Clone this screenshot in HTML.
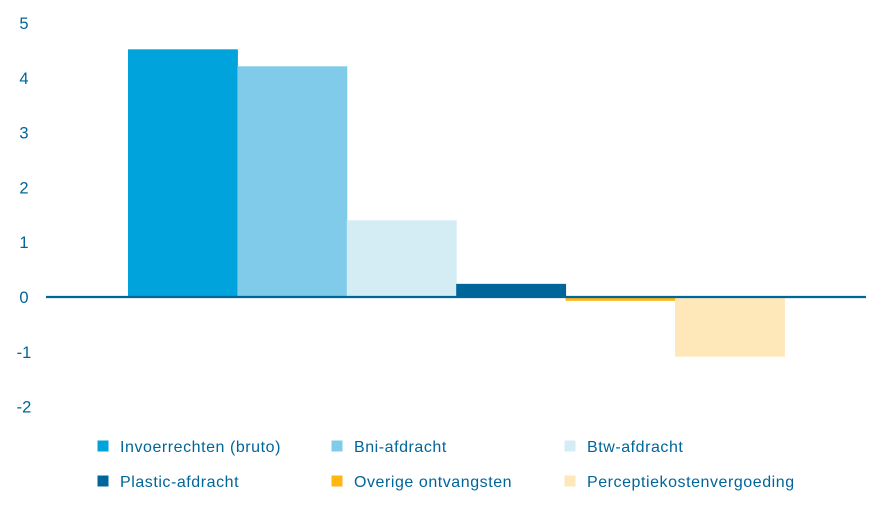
<!DOCTYPE html>
<html><head><meta charset="utf-8"><style>
html,body{margin:0;padding:0;background:#fff;width:892px;height:512px;overflow:hidden}
svg{display:block;font-family:"Liberation Sans",sans-serif}
</style></head><body>
<svg id="chart" width="892" height="512"></svg>
<script>
const series = ["Invoerrechten (bruto)","Bni-afdracht","Btw-afdracht","Plastic-afdracht","Overige ontvangsten","Perceptiekostenvergoeding"];
const values = [4.52, 4.21, 1.40, 0.24, -0.07, -1.09];
const colors = ["#00a3dc","#80cbe9","#d4edf5","#00659a","#ffb612","#fee7b9"];
const ticks = [5,4,3,2,1,0,-1,-2];
const NS="http://www.w3.org/2000/svg";
const svg=document.getElementById('chart');
const zeroY=297, unit=54.8;
const y=v=>zeroY-v*unit;
const x0=128, bw=109.4;
const x=i=>x0+i*bw;
function el(t,a){const e=document.createElementNS(NS,t);for(const k in a)e.setAttribute(k,a[k]);svg.appendChild(e);return e;}
ticks.forEach(t=>{
  const e=el('text',{x:24,y:y(t)+6,'text-anchor':'middle','font-size':16.5,fill:'#00659a'});
  e.textContent=t;
  
  
});
values.forEach((v,i)=>{
  const top=Math.min(y(v),zeroY), h=Math.abs(y(v)-zeroY);
  const r=el('rect',{x:x(i),y:top,width:bw+0.5,height:h,fill:colors[i]});
  
  
});
const ax=el('line',{x1:46,x2:866,y1:zeroY,y2:zeroY,stroke:'#00659a','stroke-width':2.2});


const lx=[103,337,570], ly=[446,481];
series.forEach((s,i)=>{
  const cx=lx[i%3], cy=ly[Math.floor(i/3)];
  const sq=el('rect',{x:cx-5.5,y:cy-5.5,width:11,height:11,fill:colors[i]});
  
  
  const t=el('text',{x:cx+17,y:cy+6,'font-size':16,'letter-spacing':0.55,fill:'#00659a'});
  t.textContent=s;
  
  
});
</script>
</body></html>
